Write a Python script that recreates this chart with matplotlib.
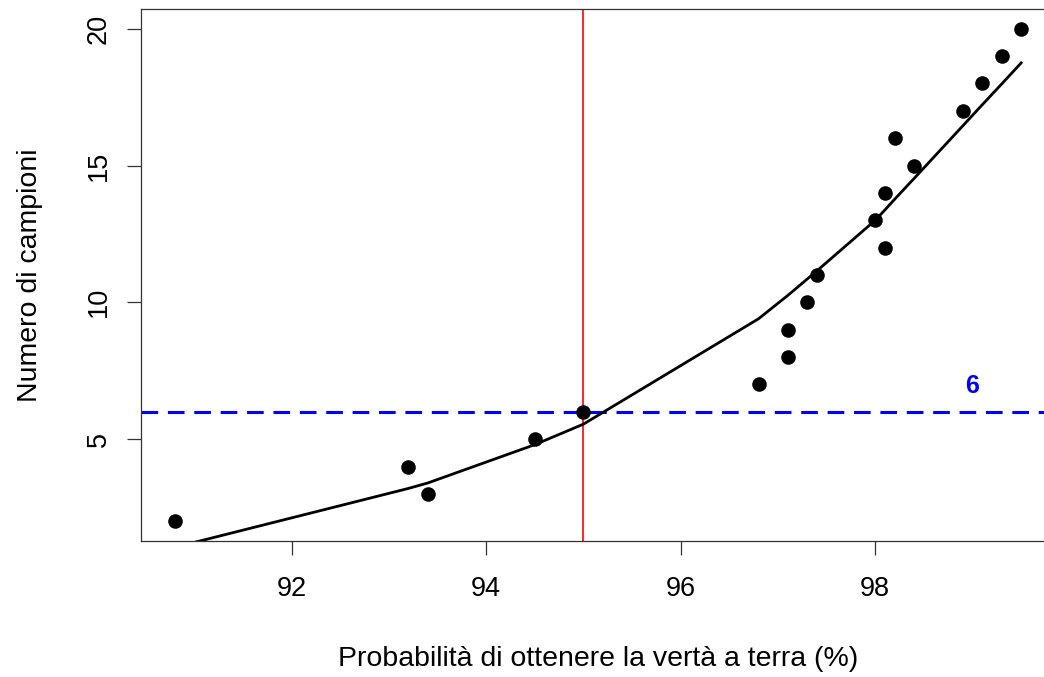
import matplotlib
matplotlib.use("Agg")
from matplotlib import pyplot as plt

plt.rcParams['font.family'] = ['Liberation Sans', 'DejaVu Sans']
plt.rcParams['lines.scale_dashes'] = False

# observed samples: probability (%) vs number of samples
prob = [90.8, 93.2, 93.4, 94.5, 95.0, 96.8, 97.1, 97.1, 97.3, 97.4,
        98.1, 98.0, 98.1, 98.4, 98.2, 98.9, 99.1, 99.3, 99.5]
campioni = [2, 4, 3, 5, 6, 7, 8, 9, 10, 11,
            12, 13, 14, 15, 16, 17, 18, 19, 20]

# fitted curve evaluated at the sorted probabilities
fit_x = [90.8, 93.2, 93.4, 94.5, 95.0, 96.8, 97.1, 97.3, 97.4,
         98.0, 98.1, 98.2, 98.4, 98.9, 99.1, 99.3, 99.5]
fit_y = [1.05, 3.2, 3.4, 4.8, 5.55, 9.4, 10.25, 10.85, 11.15,
         13.0, 13.38, 13.77, 14.53, 16.45, 17.22, 17.98, 18.75]

soglia_prob = 95
soglia_campioni = 6

W, H = 1044, 677
fig = plt.figure(figsize=(W / 100, H / 100), dpi=100)
ax = fig.add_axes([141 / W, (H - 541) / H, (1055 - 141) / W, (541 - 9) / H])

ax.plot(fit_x, fit_y, color='black', lw=2.0, zorder=3)
ax.scatter(prob, campioni, s=110, color='black', zorder=4, linewidths=0)
ax.axvline(soglia_prob, color='red', lw=1.2, zorder=2)
ax.axhline(soglia_campioni, color='blue', lw=2.2, dashes=(12, 7), zorder=2)
ax.text(99.0, soglia_campioni + 0.95, str(soglia_campioni), color='blue',
        fontsize=18, fontweight='bold', ha='center', va='center')

ax.set_xlim(90.452, 99.848)
ax.set_ylim(1.28, 20.72)
ax.set_xticks([92, 94, 96, 98])
ax.set_yticks([5, 10, 15, 20])
ax.tick_params(axis='both', length=10, width=0.9, colors='#333333',
               labelcolor='black', labelsize=19.5)
ax.tick_params(axis='x', pad=15)
ax.tick_params(axis='y', pad=11)
for lab in ax.get_yticklabels():
    lab.set_rotation(90)
    lab.set_va('center')
for sp in ax.spines.values():
    sp.set_linewidth(0.9)
    sp.set_color('#333333')

ax.set_xlabel('Probabilità di ottenere la vertà a terra (%)', fontsize=20.5, labelpad=32)
ax.set_ylabel('Numero di campioni', fontsize=20.5, labelpad=31)

fig.savefig('out.png', dpi=100)
